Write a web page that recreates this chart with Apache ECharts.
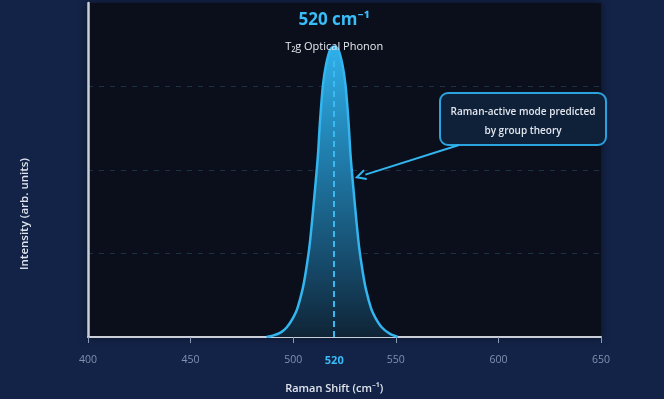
<!DOCTYPE html>
<html>
<head>
<meta charset="utf-8">
<script src="https://cdn.jsdelivr.net/npm/echarts@6/dist/echarts.min.js"></script>
<style>
  html, body { margin: 0; padding: 0; background: #132347; }
  #chart { width: 664px; height: 399px; }
</style>
</head>
<body>
<div id="chart"></div>
<script>
// ---- data ----
const ramanShift = [487, 490, 494, 497, 500, 502, 504.5, 506, 508, 510, 512, 513, 514.5, 516, 518, 520, 522, 524, 525.5, 527, 528, 530, 532, 534, 535.5, 538, 540, 543, 547, 551];
const intensity  = [0.0, 0.004, 0.014, 0.03, 0.058, 0.085, 0.141, 0.19, 0.275, 0.40, 0.54, 0.64, 0.754, 0.815, 0.86, 0.87, 0.86, 0.815, 0.754, 0.64, 0.54, 0.40, 0.275, 0.19, 0.141, 0.085, 0.058, 0.03, 0.01, 0.0];
const xTicks = [400, 450, 500, 520, 550, 600, 650];
const peakShift = 520;
const peakIntensity = 0.87;
const peakTitle = '520 cm⁻¹';
const peakSubtitle = 'T₂g Optical Phonon';
const noteLines = ['Raman-active mode predicted', 'by group theory'];
const arrowTarget = [531, 0.478];
const xName = 'Raman Shift (cm⁻¹)';
const yName = 'Intensity (arb. units)';

const FONT = '"Open Sans", "Noto Sans", sans-serif';
const chart = echarts.init(document.getElementById('chart'), null, { renderer: 'canvas' });

const grid = '#1c3148';
const option = {
  backgroundColor: '#132347',
  animation: false,
  grid: {
    left: 88, right: 63, top: 3, bottom: 62,
    show: true, backgroundColor: '#0a0f1b', borderWidth: 0,
    shadowBlur: 8, shadowColor: 'rgba(0,0,0,0.55)'
  },
  xAxis: {
    type: 'value', min: 400, max: 650, interval: 50,
    axisLine: { show: true, lineStyle: { color: '#c9ced8', width: 2 } },
    axisTick: { show: true, customValues: [400, 450, 500, 550, 600, 650], length: 6, lineStyle: { color: '#8b9bb5', width: 1 } },
    axisLabel: {
      customValues: xTicks, margin: 18, fontFamily: FONT, fontSize: 10.5, color: '#7f91b0',
      formatter: v => v === peakShift ? '{hl|' + v + '}' : String(v),
      rich: { hl: { color: '#38bdf8', fontWeight: 'bold', fontSize: 11, fontFamily: FONT } }
    },
    splitLine: { show: false }
  },
  yAxis: {
    type: 'value', min: 0, max: 1, interval: 0.25,
    axisLine: { show: true, lineStyle: { color: '#c9ced8', width: 2.5 } },
    axisTick: { show: false },
    axisLabel: { show: false },
    splitLine: { show: true, lineStyle: { color: ['transparent', grid, grid, grid, 'transparent'], type: [5, 6], width: 1 } }
  },
  series: [{
    type: 'line',
    data: ramanShift.map((x, i) => [x, intensity[i]]),
    smooth: 0.3,
    showSymbol: false,
    lineStyle: { color: '#33b5f0', width: 2.5 },
    areaStyle: {
      opacity: 1,
      color: new echarts.graphic.LinearGradient(0, 0, 0, 1, [
        { offset: 0, color: '#2fb0ea' },
        { offset: 0.4, color: '#1f7aa8' },
        { offset: 0.75, color: '#164a6a' },
        { offset: 1, color: '#0f2436' }
      ])
    },
    markLine: {
      silent: true, symbol: ['none', 'none'],
      clip: false,
      lineStyle: { color: '#3cb8f0', width: 2, type: [6, 4], opacity: 1 },
      label: { show: false },
      emphasis: { disabled: true },
      data: [[{ coord: [peakShift, 0] }, { coord: [peakShift, peakIntensity - 0.03] }]]
    },
    z: 3
  }]
};
chart.setOption(option);

// annotations anchored to data coordinates
const pk = chart.convertToPixel({ gridIndex: 0 }, [peakShift, peakIntensity]);
const tip = chart.convertToPixel({ gridIndex: 0 }, arrowTarget);
const boxX = 440, boxY = 93, boxW = 166, boxH = 52;
const tail = [boxX + 19, boxY + boxH];
const ang = Math.atan2(tip[1] - tail[1], tip[0] - tail[0]);
const ah = 9, aw = 4.5;
const base = [tip[0] - ah * Math.cos(ang), tip[1] - ah * Math.sin(ang)];
const p1 = [base[0] + aw * Math.sin(ang), base[1] - aw * Math.cos(ang)];
const p2 = [base[0] - aw * Math.sin(ang), base[1] + aw * Math.cos(ang)];

chart.setOption({
  graphic: [
    { type: 'text', style: { text: peakTitle, x: pk[0], y: pk[1] - 26, align: 'center', verticalAlign: 'middle', fill: '#38bdf8', font: 'bold 17px ' + FONT }, z: 10 },
    { type: 'text', style: { text: peakSubtitle, x: pk[0], y: pk[1], align: 'center', verticalAlign: 'middle', fill: '#e6e9ef', font: '11px ' + FONT }, z: 10 },
    { type: 'rect', shape: { x: boxX, y: boxY, width: boxW, height: boxH, r: 8 }, style: { fill: '#0f2139', stroke: '#2aa3de', lineWidth: 2 }, z: 10 },
    { type: 'text', style: { text: noteLines.join('\n'), x: boxX + boxW / 2, y: boxY + boxH / 2 + 3, align: 'center', verticalAlign: 'middle', fill: '#e2e6ee', font: '600 10px ' + FONT, lineHeight: 19 }, z: 11 },
    { type: 'line', shape: { x1: tail[0], y1: tail[1], x2: base[0], y2: base[1] }, style: { stroke: '#33b5f0', lineWidth: 2 }, z: 10 },
    { type: 'polyline', shape: { points: [p1, tip, p2] }, style: { stroke: '#33b5f0', lineWidth: 2, fill: null }, z: 10 },
    { type: 'text', style: { text: xName, x: pk[0], y: 389, align: 'center', verticalAlign: 'middle', fill: '#dfe4ec', font: '600 11px ' + FONT }, z: 10 },
    { type: 'text', rotation: Math.PI / 2, x: 25, y: 214, style: { text: yName, x: 0, y: 0, align: 'center', verticalAlign: 'middle', fill: '#dfe4ec', font: '600 11.5px ' + FONT }, z: 10 }
  ]
});
</script>
</body>
</html>
